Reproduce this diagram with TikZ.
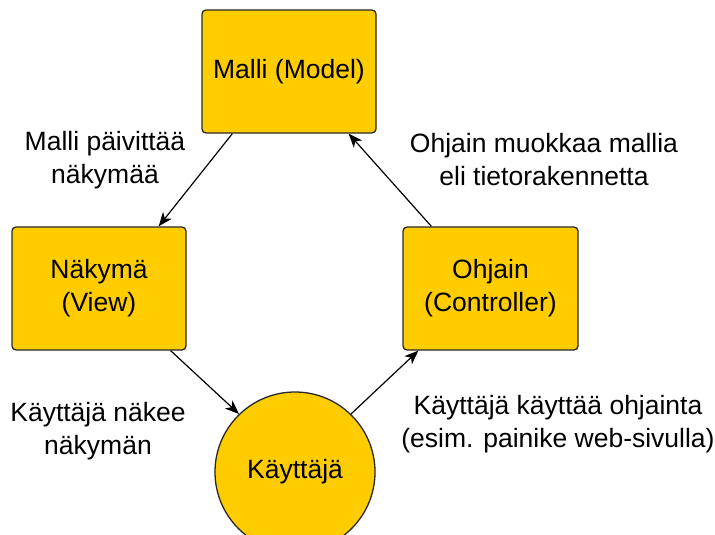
\documentclass[tikz,border=0pt]{standalone}
\usepackage{fontspec}
\setmainfont{Liberation Sans}
\usetikzlibrary{arrows.meta}

\definecolor{mvcyellow}{RGB}{255,204,0}
\definecolor{mvcedge}{RGB}{40,40,40}

\tikzset{
  mvcbox/.style={draw=mvcedge,fill=mvcyellow,line width=1.3pt,rounded corners=4pt,
    minimum width=174pt,minimum height=123pt,inner sep=0pt,align=center},
  userdisc/.style={draw=mvcedge,fill=mvcyellow,line width=1.3pt,circle,
    minimum size=160pt,inner sep=0pt},
  flow/.style={line width=1.2pt,-{Stealth[length=14pt,width=11pt,inset=4pt]}},
  note/.style={align=center,inner sep=0pt}
}

\begin{document}
\begin{tikzpicture}[x=1pt,y=-1pt,font=\fontsize{26.5}{33}\selectfont]
\useasboundingbox (0,0) rectangle (715,535);
\node[mvcbox] (malli) at (289,71.5) {Malli (Model)};
\node[mvcbox] (nakyma) at (99,288.5) {Näkymä\\(View)};
\node[mvcbox,minimum width=175pt] (ohjain) at (490.5,288.5) {Ohjain\\(Controller)};
\node[userdisc] (kayttaja) at (295,472) {Käyttäjä};
\node[note] (paivitys) at (105,160) {Malli päivittää\\näkymää};
\node[note] (muokkaus) at (544,160) {Ohjain muokkaa mallia\\eli tietorakennetta};
\node[note] (nakeminen) at (98,431) {Käyttäjä näkee\\näkymän};
\node[note] (kaytto) at (558,424) {Käyttäjä käyttää ohjainta\\(esim. painike web-sivulla)};
\draw[flow] ([xshift=31pt]malli.south west) -- ([xshift=-28pt]nakyma.north east);
\draw[flow] ([xshift=-16pt]nakyma.south east) -- (kayttaja.134);
\draw[flow] (kayttaja.46) -- ([xshift=16pt]ohjain.south west);
\draw[flow] ([xshift=29pt]ohjain.north west) -- ([xshift=-28pt]malli.south east);
\end{tikzpicture}
\end{document}
